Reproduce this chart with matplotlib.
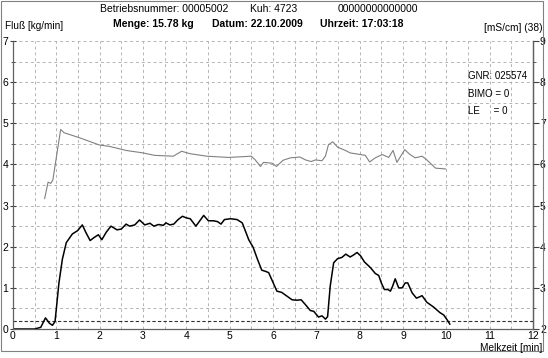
import matplotlib
matplotlib.use("Agg")
import matplotlib.pyplot as plt
from matplotlib.patches import Rectangle
from matplotlib.ticker import MultipleLocator

plt.rcParams['font.family'] = ['Liberation Sans', 'DejaVu Sans']

# Flow (kg/min) vs milking time (min)
flow_t = [0.0, 0.5, 0.64, 0.75, 0.84, 0.91, 0.97, 1.06, 1.14, 1.23, 1.37, 1.49, 1.60, 1.68, 1.78,
          1.88, 1.97, 2.05, 2.15, 2.26, 2.40, 2.50, 2.61, 2.69, 2.81, 2.92, 3.04, 3.16, 3.25,
          3.36, 3.47, 3.53, 3.62, 3.71, 3.81, 3.91, 4.00, 4.09, 4.22, 4.29, 4.40, 4.51, 4.63,
          4.72, 4.80, 4.88, 5.02, 5.17, 5.29, 5.36, 5.44, 5.54, 5.64, 5.74, 5.83, 5.90, 5.98,
          6.09, 6.20, 6.32, 6.44, 6.55, 6.65, 6.75, 6.86, 6.94, 7.05, 7.13, 7.21, 7.26, 7.32,
          7.40, 7.49, 7.59, 7.68, 7.78, 7.86, 7.94, 8.02, 8.11, 8.25, 8.36, 8.44, 8.50, 8.57,
          8.65, 8.71, 8.76, 8.82, 8.90, 8.98, 9.05, 9.11, 9.21, 9.31, 9.38, 9.44, 9.55, 9.71,
          9.85, 9.94, 10.02, 10.08]
flow_v = [0.0, 0.0, 0.04, 0.27, 0.14, 0.09, 0.18, 1.12, 1.70, 2.10, 2.31, 2.39, 2.53, 2.35, 2.15,
          2.23, 2.29, 2.17, 2.35, 2.50, 2.41, 2.43, 2.55, 2.50, 2.53, 2.65, 2.53, 2.57, 2.50,
          2.54, 2.52, 2.58, 2.53, 2.55, 2.66, 2.74, 2.70, 2.68, 2.50, 2.60, 2.76, 2.63, 2.63,
          2.61, 2.55, 2.66, 2.68, 2.66, 2.58, 2.39, 2.17, 1.99, 1.70, 1.43, 1.40, 1.37, 1.18,
          0.92, 0.89, 0.80, 0.71, 0.70, 0.71, 0.59, 0.45, 0.43, 0.29, 0.32, 0.24, 0.30, 1.04,
          1.61, 1.71, 1.74, 1.82, 1.75, 1.80, 1.86, 1.78, 1.63, 1.49, 1.35, 1.30, 1.12, 0.96,
          0.96, 0.92, 1.04, 1.22, 1.00, 1.00, 1.12, 1.12, 0.88, 0.75, 0.78, 0.81, 0.65, 0.53,
          0.40, 0.34, 0.22, 0.12]

# Conductivity (mS/cm) vs milking time (min)
cond_t = [0.73, 0.81, 0.87, 0.92, 1.01, 1.10, 1.18, 1.53, 2.00, 2.22, 2.61, 3.00, 3.27, 3.70,
          3.89, 4.09, 4.47, 4.98, 5.50, 5.59, 5.71, 5.78, 5.98, 6.08, 6.23, 6.40, 6.62, 6.75,
          6.88, 6.98, 7.13, 7.21, 7.28, 7.38, 7.49, 7.67, 7.78, 8.02, 8.13, 8.23, 8.36, 8.52,
          8.67, 8.77, 8.86, 9.04, 9.15, 9.28, 9.44, 9.55, 9.75, 9.98]
cond_v = [5.17, 5.57, 5.54, 5.62, 6.24, 6.85, 6.77, 6.65, 6.47, 6.44, 6.34, 6.28, 6.22, 6.20,
          6.32, 6.26, 6.20, 6.17, 6.20, 6.11, 5.95, 6.05, 6.03, 5.95, 6.10, 6.16, 6.18, 6.11,
          6.07, 6.11, 6.09, 6.20, 6.48, 6.55, 6.42, 6.34, 6.28, 6.24, 6.22, 6.06, 6.16, 6.24,
          6.17, 6.34, 6.05, 6.36, 6.25, 6.16, 6.20, 6.11, 5.91, 5.89]

threshold = 0.2
x_ticks = list(range(0, 13))
left_ticks = list(range(0, 8))
right_ticks = list(range(2, 10))

W, H = 548, 358
fig = plt.figure(figsize=(W / 100, H / 100), dpi=100)
fig.patch.set_facecolor('white')

# outer frame
fig.patches.append(Rectangle((1 / W, 1 - 351 / H), 542 / W, 350 / H, transform=fig.transFigure,
                             fill=False, edgecolor='#808080', linewidth=0.8))

ax = fig.add_axes([13 / W, 1 - 329 / H, 520 / W, 288 / H])
ax.set_xlim(0, 12)
ax.set_ylim(0, 7)
ax.xaxis.set_minor_locator(MultipleLocator(0.5))
ax.yaxis.set_minor_locator(MultipleLocator(0.5))
ax.set_xticks(x_ticks)
ax.set_yticks(left_ticks)
ax.grid(True, which='both', linestyle=(0, (3, 3)), color='#b4b4b4', linewidth=0.7)
ax.set_axisbelow(True)
ax.spines['top'].set_visible(False)
for s in ['left', 'bottom', 'right']:
    ax.spines[s].set_color('#606060')
    ax.spines[s].set_linewidth(0.9)
ax.tick_params(axis='both', which='both', labelsize=7.5, colors='#404040', labelcolor='black', pad=1)
ax.tick_params(axis='y', which='major', direction='inout', length=5)
ax.tick_params(axis='y', which='minor', direction='inout', length=3)
ax.tick_params(axis='x', which='major', direction='out', length=0, pad=1.5)
ax.tick_params(axis='x', which='minor', length=0)

ax.axhline(threshold, color='#303030', linestyle=(0, (3, 2)), linewidth=0.8)
ax.plot(flow_t, flow_v, color='black', linewidth=1.1)

ax2 = ax.twinx()
ax2.set_ylim(2, 9)
ax2.set_yticks(right_ticks)
ax2.yaxis.set_minor_locator(MultipleLocator(0.5))
for s in ['top', 'left', 'bottom']:
    ax2.spines[s].set_visible(False)
ax2.spines['right'].set_color('#606060')
ax2.spines['right'].set_linewidth(0.9)
ax2.tick_params(axis='y', which='major', direction='out', length=4, labelsize=7.5,
                colors='#404040', labelcolor='black', pad=1)
ax2.tick_params(axis='y', which='minor', direction='out', length=2.5, colors='#404040')
ax2.plot(cond_t, cond_v, color='#808080', linewidth=0.8)

# header texts
fig.text(100 / W, 1 - 9 / H, 'Betriebsnummer: 00005002', fontsize=7.5, va='center', ha='left')
fig.text(250 / W, 1 - 9 / H, 'Kuh: 4723', fontsize=7.5, va='center', ha='left')
fig.text(338 / W, 1 - 9 / H, '00000000000000', fontsize=7.5, va='center', ha='left')
fig.text(113 / W, 1 - 24 / H, 'Menge: 15.78 kg', fontsize=7.5, fontweight='bold', va='center', ha='left')
fig.text(212 / W, 1 - 24 / H, 'Datum: 22.10.2009', fontsize=7.5, fontweight='bold', va='center', ha='left')
fig.text(320 / W, 1 - 24 / H, 'Uhrzeit: 17:03:18', fontsize=7.5, fontweight='bold', va='center', ha='left')
fig.text(5 / W, 1 - 26 / H, 'Fluß [kg/min]', fontsize=7.2, va='center', ha='left')
fig.text(542 / W, 1 - 28 / H, '[mS/cm] (38)', fontsize=7.3, va='center', ha='right')
fig.text(468 / W, 1 - 76 / H, 'GNR: 025574', fontsize=7, va='center', ha='left')
fig.text(468 / W, 1 - 94 / H, 'BIMO = 0', fontsize=7, va='center', ha='left')
fig.text(468 / W, 1 - 111 / H, 'LE     = 0', fontsize=7, va='center', ha='left')
fig.text(542 / W, 1 - 348 / H, 'Melkzeit [min]', fontsize=7.3, va='center', ha='right')

fig.savefig('out.png', dpi=100, facecolor='white')
